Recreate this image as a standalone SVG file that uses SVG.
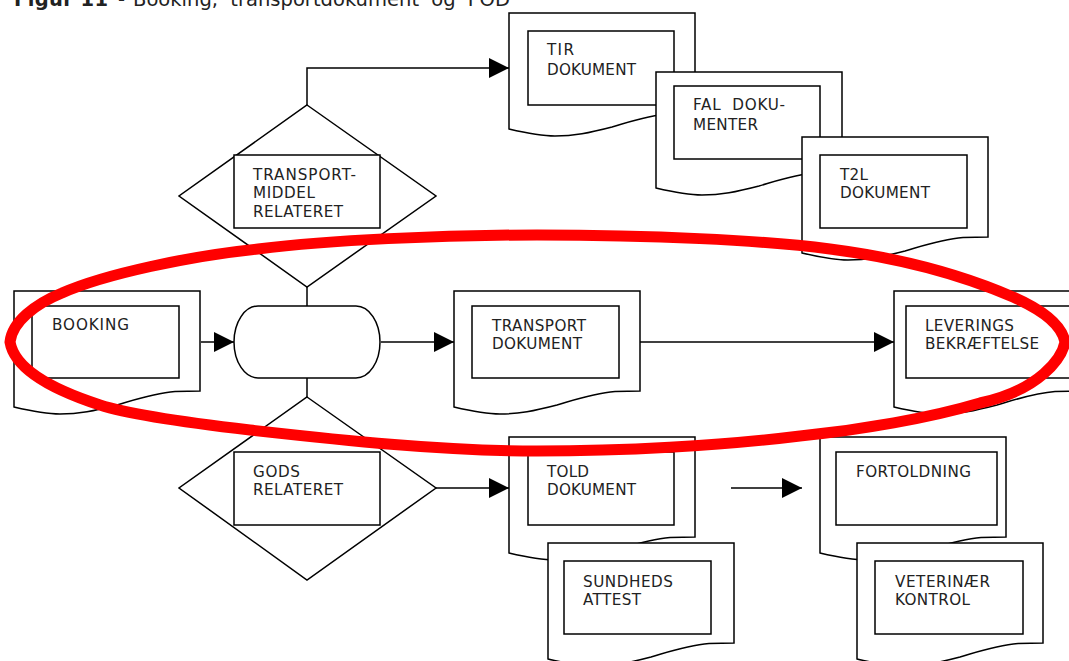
<svg xmlns="http://www.w3.org/2000/svg" width="1069" height="661" viewBox="0 0 1069 661">
<style>
.s{fill:#fff;stroke:#000;stroke-width:1.5}
.c{fill:none;stroke:#000;stroke-width:1.5}
text{font-family:"DejaVu Sans",Verdana,sans-serif;font-size:15.2px;fill:#222}
.t{font-size:19.5px}
</style>
<defs>
<marker id="a" markerUnits="userSpaceOnUse" markerWidth="20" markerHeight="20" refX="20" refY="10" orient="auto"><path d="M0 0L20 10L0 20Z" fill="#000"/></marker>
<path id="doc" d="M0 0H186V100L161 100.500C140 102 120 109 103 114C80 120 65 123 46 123C30 123 0 116 0 116Z"/>
</defs>
<text class="t" x="14" y="6"><tspan font-weight="bold" textLength="94">Figur 11</tspan></text>
<text class="t" x="118" y="6">-</text>
<text class="t" x="133" y="6" word-spacing="6" textLength="377">Booking, transportdokument og POD</text>
<g id="connectors">
<path class="c" d="M307 105V68H509" marker-end="url(#a)"/>
<path class="c" d="M307 287V306M307 378V397"/>
<path class="c" d="M201 342H234" marker-end="url(#a)"/>
<path class="c" d="M381 342H454" marker-end="url(#a)"/>
<path class="c" d="M640 342H894" marker-end="url(#a)"/>
<path class="c" d="M436 488H509" marker-end="url(#a)"/>
<path class="c" d="M731 488H802" marker-end="url(#a)"/>
</g>
<g id="tir"><use href="#doc" class="s" x="509" y="13"/><rect class="s" x="528" y="31" width="146" height="74"/><text x="547" y="55" textLength="27">TIR</text><text x="547" y="75" textLength="89">DOKUMENT</text></g>
<g id="fal"><use href="#doc" class="s" x="656" y="72"/><rect class="s" x="674" y="86" width="146" height="73"/><text x="693" y="110" textLength="92" xml:space="preserve">FAL  DOKU-</text><text x="693" y="130" textLength="65">MENTER</text></g>
<g id="t2l"><use href="#doc" class="s" x="802" y="137"/><rect class="s" x="820" y="155" width="147" height="73"/><text x="840" y="180" textLength="28">T2L</text><text x="840" y="198" textLength="90">DOKUMENT</text></g>
<g id="transportmiddel"><path class="s" d="M307 105L436 196L307 287L179 196Z"/><rect class="s" x="234" y="155" width="146" height="73"/><text x="253" y="180" textLength="103">TRANSPORT-</text><text x="253" y="198" textLength="62">MIDDEL</text><text x="253" y="217" textLength="90">RELATERET</text></g>
<g id="booking"><use href="#doc" class="s" x="14" y="291"/><rect class="s" x="32" y="306" width="147" height="72"/><text x="52" y="330" textLength="77">BOOKING</text></g>
<g id="terminator"><rect class="s" x="234" y="306" width="146" height="72" rx="24" ry="36"/></g>
<g id="transport"><use href="#doc" class="s" x="454" y="291"/><rect class="s" x="472" y="306" width="147" height="72"/><text x="492" y="331" textLength="94">TRANSPORT</text><text x="492" y="349" textLength="90">DOKUMENT</text></g>
<g id="leverings"><use href="#doc" class="s" x="894" y="291"/><rect class="s" x="906" y="306" width="170" height="72"/><text x="925" y="331" textLength="89">LEVERINGS</text><text x="925" y="349" textLength="114">BEKRÆFTELSE</text></g>
<g id="gods"><path class="s" d="M307 397L436 488L307 580L179 488Z"/><rect class="s" x="234" y="452" width="146" height="73"/><text x="253" y="477" textLength="47">GODS</text><text x="253" y="495" textLength="90">RELATERET</text></g>
<g id="told"><use href="#doc" class="s" x="509" y="437"/><rect class="s" x="528" y="452" width="146" height="73"/><text x="547" y="477" textLength="42">TOLD</text><text x="547" y="495" textLength="89">DOKUMENT</text></g>
<g id="sundheds"><use href="#doc" class="s" x="548" y="543"/><rect class="s" x="564" y="561" width="147" height="73"/><text x="583" y="587" textLength="90">SUNDHEDS</text><text x="583" y="605" textLength="58">ATTEST</text></g>
<g id="fortoldning"><use href="#doc" class="s" x="820" y="437"/><rect class="s" x="836" y="452" width="161" height="73"/><text x="856" y="477" textLength="115">FORTOLDNING</text></g>
<g id="veterinaer"><use href="#doc" class="s" x="857" y="543"/><rect class="s" x="875" y="561" width="148" height="73"/><text x="895" y="587" textLength="95">VETERINÆR</text><text x="895" y="605" textLength="75">KONTROL</text></g>
<path id="ring" d="M10 342C12 322 35 304 62 293C105 274 190 256 258 249C330 240 440 235 537 235C650 235 760 240 830 249C900 258 960 274 1013 297C1045 311 1062 326 1065 342C1062 358 1040 390 980 403C930 418 860 430 800 436C720 446 620 451 537 451C440 451 340 440 250 430C190 423 130 415 100 405C60 392 15 372 10 342Z" fill="none" stroke="#f00" stroke-width="11"/>
</svg>
